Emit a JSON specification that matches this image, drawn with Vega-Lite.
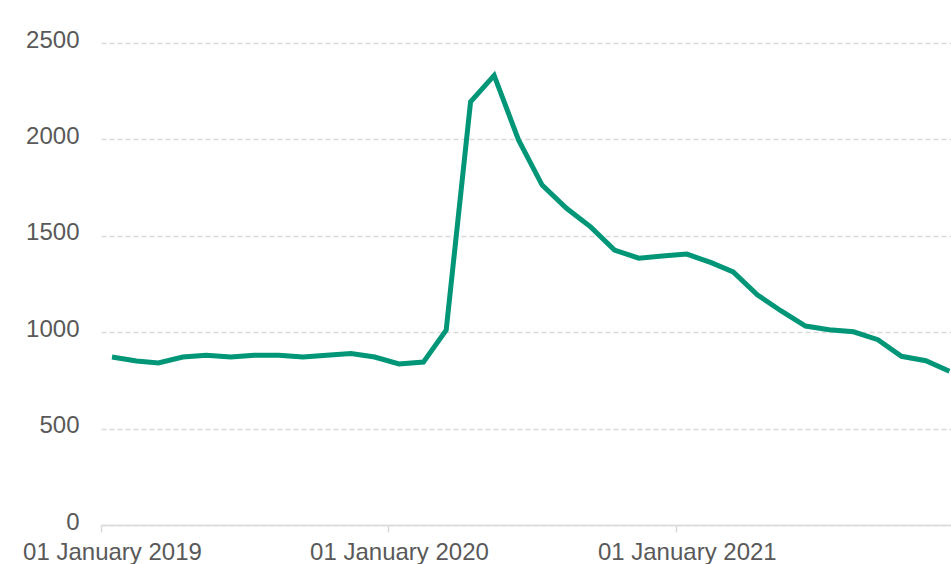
{
  "$schema": "https://vega.github.io/schema/vega-lite/v6.json",
  "autosize": "none",
  "width": 850,
  "height": 482,
  "padding": {"left": 101, "top": 43, "right": 0, "bottom": 39},
  "background": "white",
  "config": {
    "view": {"stroke": null},
    "font": "Liberation Sans"
  },
  "data": {
    "values": [
      {"date": "2019-01-15", "value": 871},
      {"date": "2019-02-15", "value": 851},
      {"date": "2019-03-15", "value": 840},
      {"date": "2019-04-15", "value": 871},
      {"date": "2019-05-15", "value": 880},
      {"date": "2019-06-15", "value": 871},
      {"date": "2019-07-15", "value": 880},
      {"date": "2019-08-15", "value": 880},
      {"date": "2019-09-15", "value": 871},
      {"date": "2019-10-15", "value": 880},
      {"date": "2019-11-15", "value": 890},
      {"date": "2019-12-15", "value": 871},
      {"date": "2020-01-15", "value": 835},
      {"date": "2020-02-15", "value": 845},
      {"date": "2020-03-15", "value": 1011},
      {"date": "2020-04-15", "value": 2195},
      {"date": "2020-05-15", "value": 2332},
      {"date": "2020-06-15", "value": 1997},
      {"date": "2020-07-15", "value": 1763},
      {"date": "2020-08-15", "value": 1643},
      {"date": "2020-09-15", "value": 1545},
      {"date": "2020-10-15", "value": 1426},
      {"date": "2020-11-15", "value": 1384},
      {"date": "2020-12-15", "value": 1395},
      {"date": "2021-01-15", "value": 1405},
      {"date": "2021-02-15", "value": 1361},
      {"date": "2021-03-15", "value": 1313},
      {"date": "2021-04-15", "value": 1193},
      {"date": "2021-05-15", "value": 1110},
      {"date": "2021-06-15", "value": 1032},
      {"date": "2021-07-15", "value": 1013},
      {"date": "2021-08-15", "value": 1002},
      {"date": "2021-09-15", "value": 961},
      {"date": "2021-10-15", "value": 875},
      {"date": "2021-11-15", "value": 852},
      {"date": "2021-12-15", "value": 797}
    ]
  },
  "mark": {"type": "line", "color": "#009677", "strokeWidth": 5, "clip": true, "strokeJoin": "miter"},
  "encoding": {
    "x": {
      "field": "date",
      "type": "temporal",
      "scale": {
        "type": "utc",
        "domain": [
          {"year": 2019, "month": 1, "date": 1, "utc": true},
          {"year": 2021, "month": 12, "date": 17, "utc": true}
        ]
      },
      "axis": {
        "title": null,
        "values": [
          {"year": 2019, "month": 1, "date": 1, "utc": true},
          {"year": 2020, "month": 1, "date": 1, "utc": true},
          {"year": 2021, "month": 1, "date": 1, "utc": true}
        ],
        "labelExpr": "utcFormat(datum.value, '%d %B %Y')",
        "grid": false,
        "domainColor": "#d9d9d9",
        "domainWidth": 1.5,
        "tickColor": "#d9d9d9",
        "tickSize": 7,
        "tickWidth": 1.5,
        "labelOffset": 11,
        "labelPadding": 8,
        "labelFontSize": 24,
        "labelColor": "#595959",
        "labelFont": "Liberation Sans",
        "labelOverlap": false,
        "labelFlush": false
      }
    },
    "y": {
      "field": "value",
      "type": "quantitative",
      "scale": {"domain": [0, 2500], "nice": false},
      "axis": {
        "title": null,
        "format": "d",
        "values": [0, 500, 1000, 1500, 2000, 2500],
        "domain": false,
        "ticks": false,
        "grid": true,
        "gridColor": "#d9d9d9",
        "gridDash": [5, 3],
        "gridWidth": 1.5,
        "labelPadding": 22,
        "labelFontSize": 24,
        "labelColor": "#595959",
        "labelFont": "Liberation Sans",
        "labelOffset": -3
      }
    }
  }
}
